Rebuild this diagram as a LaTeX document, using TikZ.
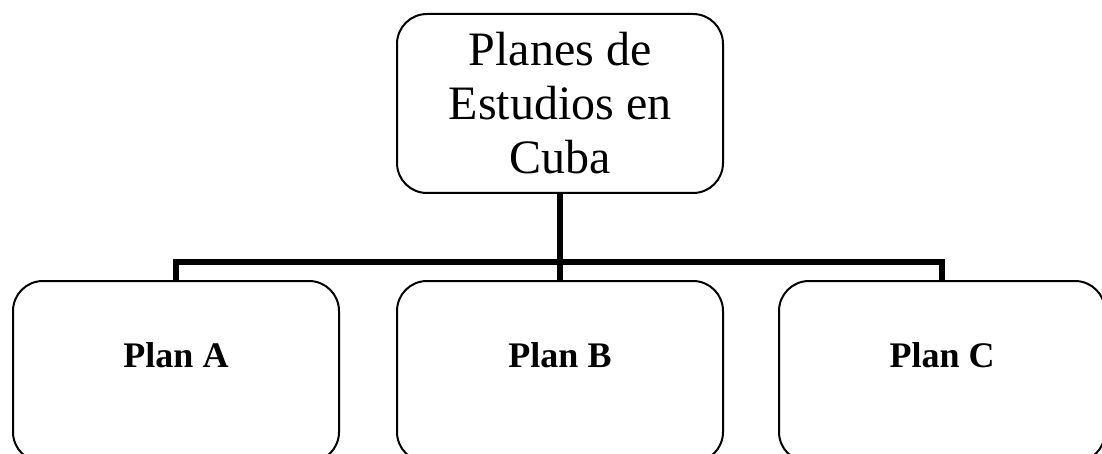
\documentclass[tikz,border=0pt]{standalone}
\usepackage{fontspec}
\setmainfont{Liberation Serif}
\usepackage{tikz}
\pgfdeclarelayer{bg}
\pgfsetlayers{bg,main}
\tikzset{
    box/.style={rectangle, draw, line width=1pt, rounded corners=15pt, fill=white,
        minimum width=163pt, align=center}
}
\tikzset{
    topbox/.style={box, minimum height=89.5pt, font=\fontsize{24}{27}\selectfont},
    planbox/.style={box, minimum height=90.5pt, text height=12pt, text depth=16.5pt,
        font=\fontsize{18}{21}\selectfont\bfseries},
    link/.style={line width=3pt}
}

\begin{document}
\begin{tikzpicture}[x=0.5pt, y=-0.5pt]
    \clip (0, 0) rectangle (1102, 454);
    \node (pe) [topbox] at (560, 103.5) {Planes de\\Estudios en\\Cuba};

    \node (pa) [planbox] at (176, 371.5) {Plan A};
    \node (pb) [planbox] at (560, 371.5) {Plan B};
    \node (pc) [planbox] at (942, 371.5) {Plan C};

    \coordinate (j) at (560, 262);

    \begin{pgfonlayer}{bg}
        \draw [link] (pe) -- (j);
        \draw [link] (pb) -- (j);
        \draw [link] (pa) |- (j);
        \draw [link] (pc) |- (j);
    \end{pgfonlayer}
\end{tikzpicture}
\end{document}
